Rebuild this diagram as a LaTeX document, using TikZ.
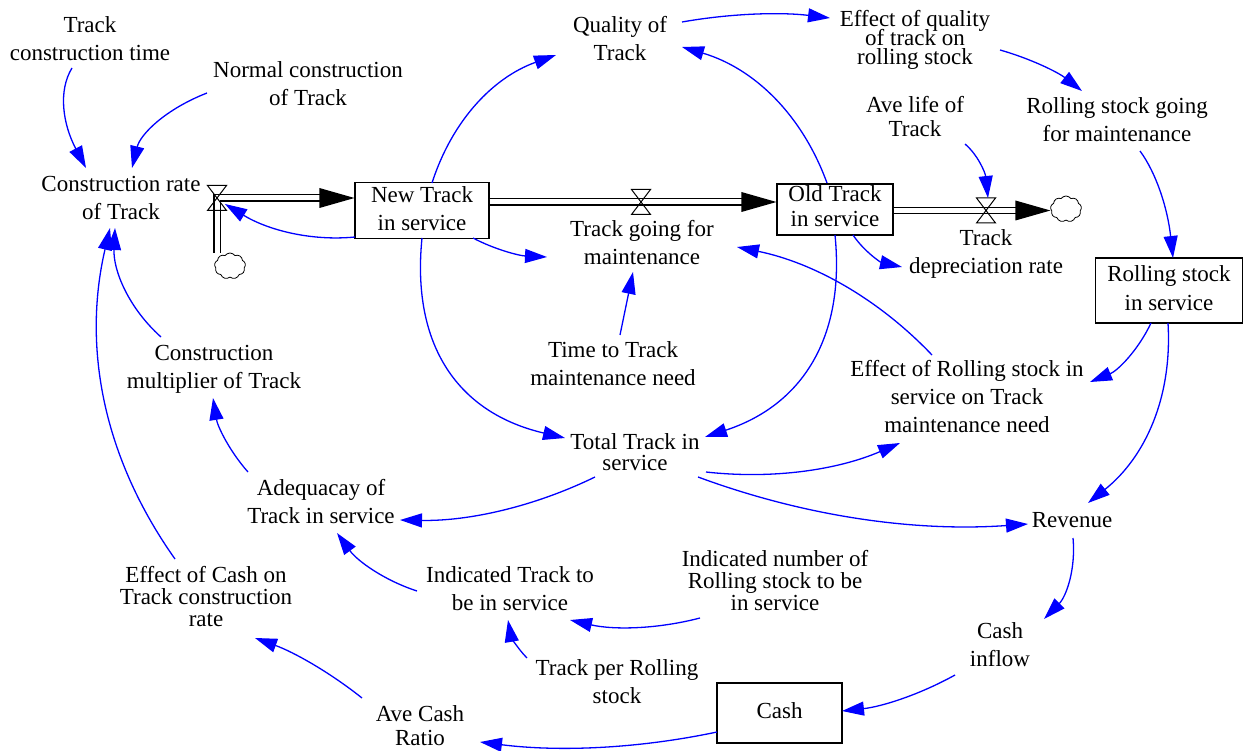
\documentclass[tikz,border=0pt]{standalone}
\usepackage{fontspec}
\setmainfont{Liberation Serif}
\usetikzlibrary{arrows.meta,shapes.symbols,calc}
\newcommand\dfont[1]{\fontsize{23}{#1}\selectfont\lineskiplimit=-30pt\relax}
\begin{document}
\begin{tikzpicture}[x=1pt,y=1pt,
  var/.style={align=center, inner sep=1pt, font=\dfont{28}},
  stock/.style={draw=black, line width=1.2pt, align=center, inner sep=0pt, font=\dfont{28}},
  link/.style={draw=blue, line width=1.3pt, -{Triangle[length=22pt,width=14pt]}},
  pipe/.style={draw=black, double=white, double distance=5pt, line width=1.3pt},
  flowhead/.style={fill=black},
  valveshape/.style={draw=black, line width=1pt},
  valvept/.style={circle, inner sep=0pt, minimum size=20pt},
  cloudshape/.style={cloud, cloud puffs=9, cloud puff arc=110, aspect=1.2, draw=black, line width=0.8pt, minimum width=31pt, minimum height=26pt, inner sep=0pt}]
\useasboundingbox[fill=white] (0,0) rectangle (1244,-751);

% stocks
\node[stock, minimum width=134pt, minimum height=55pt] (newtrack) at (422,-210.5) {New Track\strut\\in service\strut};
\node[stock, minimum width=116pt, minimum height=51pt, font=\dfont{25}] (oldtrack) at (835,-209.5) {Old Track\strut\\in service\strut};
\node[stock, minimum width=147pt, minimum height=65pt, font=\dfont{29}] (rsbox) at (1169,-290.5) {Rolling stock\strut\\in service\strut};
\node[stock, minimum width=125pt, minimum height=60pt] (cash) at (779.5,-713) {Cash\strut};

% valves and clouds
\node[valvept] (v1) at (217,-198) {};
\node[valvept] (v2) at (641,-202) {};
\node[valvept] (v3) at (986,-210.5) {};
\node[cloudshape] (cloud1) at (230,-266) {};
\node[cloudshape] (cloud2) at (1066,-209) {};

% pipes
\draw[pipe] (cloud1.north -| v1.center) -- (v1.center) -- ($(newtrack.west |- v1.center)+(-34,0)$);
\fill[flowhead] (newtrack.west |- v1.center) -- ++(-35,10) -- ++(0,-20) -- cycle;
\draw[pipe] (newtrack.east |- v2.center) -- ($(oldtrack.west |- v2.center)+(-33,0)$);
\fill[flowhead] (oldtrack.west |- v2.center) -- ++(-35,10) -- ++(0,-20) -- cycle;
\draw[pipe] (oldtrack.east |- v3.center) -- ($(cloud2.west |- v3.center)+(-34,0)$);
\fill[flowhead] (cloud2.west |- v3.center) -- ++(-35,10) -- ++(0,-20) -- cycle;
\foreach \v in {v1,v2,v3}
  \draw[valveshape] (\v.center) -- ++(-9.5,12.5) -- ++(19,0) -- cycle
                    (\v.center) -- ++(-9.5,-12.5) -- ++(19,0) -- cycle;

% variables
\node[var] (tct) at (90,-41) {Track\strut\\construction time\strut};
\node[var] (ncon) at (308,-86) {Normal construction\strut\\of Track\strut};
\node[var] (crate) at (121,-200) {Construction rate\strut\\of Track\strut};
\node[var] (quality) at (620,-41) {Quality of\strut\\Track\strut};
\node[var, font=\dfont{19}] (effq) at (915,-40) {Effect of quality\strut\\of track on\strut\\rolling stock\strut};
\node[var, font=\dfont{24}] (avelife) at (915,-120) {Ave life of\strut\\Track\strut};
\node[var] (rsgo) at (1117,-122) {Rolling stock going\strut\\for maintenance\strut};
\node[var] (tgm) at (642,-245) {Track going for\strut\\maintenance\strut};
\node[var] (tdr) at (986,-254) {Track\strut\\depreciation rate\strut};
\node[var] (ttm) at (613,-366) {Time to Track\strut\\maintenance need\strut};
\node[var] (ers) at (967,-399) {Effect of Rolling stock in\strut\\service on Track\strut\\maintenance need\strut};
\node[var, font=\dfont{21.5}] (total) at (635,-455) {Total Track in\strut\\service\strut};
\node[var] (cmult) at (214,-369) {Construction\strut\\multiplier of Track\strut};
\node[var] (adeq) at (321,-504) {Adequacay of\strut\\Track in service\strut};
\node[var, font=\dfont{22}] (ecash) at (206,-600) {Effect of Cash on\strut\\Track construction\strut\\rate\strut};
\node[var] (itrack) at (510,-591) {Indicated Track to\strut\\be in service\strut};
\node[var, font=\dfont{22}] (inum) at (775,-584) {Indicated number of\strut\\Rolling stock to be\strut\\in service\strut};
\node[var] (tpr) at (617,-684) {Track per Rolling\strut\\stock\strut};
\node[var, font=\dfont{23.5}] (avecash) at (420,-729) {Ave Cash\strut\\Ratio\strut};
\node[var] (revenue) at (1072,-522) {Revenue\strut};
\node[var] (cinflow) at (1000,-647) {Cash\strut\\inflow\strut};

% links
\draw[link] ([shift={(-18,-27)}]tct.center) .. controls (58,-90.7) and (62.7,-124) .. ([shift={(-35,32)}]crate.center);
\draw[link] ([shift={(-101,-7)}]ncon.center) .. controls (165.3,-109.3) and (140.3,-134.3) .. ([shift={(11,32)}]crate.center);
\draw[link] ([shift={(-67,-26.5)}]newtrack.center) .. controls (311.7,-241.3) and (268.3,-230.3) .. ([shift={(8,-6)}]v1.center);
\draw[link] ([shift={(10,27.5)}]newtrack.center) .. controls (452.3,-119.9) and (493.6,-77.3) .. ([shift={(-64,-14)}]quality.center);
\draw[link] ([shift={(-8,26.5)}]oldtrack.center) .. controls (801.5,-113.3) and (753.1,-68) .. ([shift={(62,-6)}]quality.center);
\draw[link] ([shift={(62,19)}]quality.center) .. controls (731.3,-13.3) and (780.7,-12) .. ([shift={(-85,22)}]effq.center);
\draw[link] ([shift={(85,-10)}]effq.center) .. controls (1030.7,-58.7) and (1058,-72.3) .. ([shift={(-35,31)}]rsgo.center);
\draw[link] ([shift={(50,-24)}]avelife.center) .. controls (977.7,-154.7) and (985.3,-172.7) .. ([shift={(2,12.5)}]v3.center);
\draw[link] ([shift={(23,-29)}]rsgo.center) .. controls (1156.7,-173.7) and (1167.7,-209.3) .. ([shift={(4,32.5)}]rsbox.center);
\draw[link] ([shift={(-18,-32.5)}]rsbox.center) .. controls (1138.1,-350.3) and (1117.7,-370.7) .. ([shift={(123,17)}]ers.center);
\draw[link] ([shift={(-1,-32.5)}]rsbox.center) .. controls (1172.4,-396.8) and (1145.7,-456.8) .. ([shift={(16,19)}]revenue.center);
\draw[link] ([shift={(-35,44)}]ers.center) .. controls (878.3,-298.6) and (813.3,-262.6) .. ([shift={(95,-2)}]tgm.center);
\draw[link] ([shift={(51,-27.5)}]newtrack.center) .. controls (494.3,-249.3) and (519,-255.7) .. ([shift={(-95,-12)}]tgm.center);
\draw[link] ([shift={(7,31)}]ttm.center) -- ([shift={(-9,-27)}]tgm.center);
\draw[link] ([shift={(18,-25.5)}]oldtrack.center) .. controls (864.3,-251.7) and (880.7,-262.3) .. ([shift={(-84,-13)}]tdr.center);
\draw[link] ([shift={(0,-27.5)}]newtrack.center) .. controls (411.1,-346.5) and (458.8,-413.2) .. ([shift={(-70,17)}]total.center);
\draw[link] ([shift={(0,-25.5)}]oldtrack.center) .. controls (845.3,-337.9) and (802,-405.2) .. ([shift={(70,18)}]total.center);
\draw[link] ([shift={(71,-17)}]total.center) .. controls (773.2,-479.5) and (837.9,-469.8) .. ([shift={(-67,-44)}]ers.center);
\draw[link] ([shift={(63,-22)}]total.center) .. controls (804.6,-516.4) and (914.6,-532.1) .. ([shift={(-44,-2)}]revenue.center);
\draw[link] ([shift={(-40,-22)}]total.center) .. controls (533.5,-506.9) and (468.5,-521.3) .. ([shift={(79,-16)}]adeq.center);
\draw[link] ([shift={(-93,0)}]itrack.center) .. controls (384.1,-580.3) and (357.4,-561) .. ([shift={(16,-29)}]adeq.center);
\draw[link] ([shift={(-73,32)}]adeq.center) .. controls (229.1,-450.7) and (217.5,-426) .. ([shift={(-1,-29)}]cmult.center);
\draw[link] ([shift={(-53,32)}]cmult.center) .. controls (128.5,-307.9) and (113.1,-270.3) .. ([shift={(-6,-28)}]crate.center);
\draw[link] ([shift={(-31,41)}]ecash.center) .. controls (103.7,-458.3) and (82,-348) .. ([shift={(-11,-28)}]crate.center);
\draw[link] ([shift={(-75,-34)}]inum.center) .. controls (656.7,-629.3) and (613.3,-630) .. ([shift={(60,-29)}]itrack.center);
\draw[link] ([shift={(-90,26)}]tpr.center) .. controls (517,-648) and (510.7,-635.3) .. ([shift={(-2,-29)}]itrack.center);
\draw[link] ([shift={(1,-16)}]revenue.center) .. controls (1075.9,-569.5) and (1066.2,-596.5) .. ([shift={(44,28)}]cinflow.center);
\draw[link] ([shift={(-45,-28)}]cinflow.center) .. controls (919.7,-694.6) and (882.1,-706.6) .. ([shift={(62.5,2)}]cash.center);
\draw[link] ([shift={(-62.5,-19)}]cash.center) .. controls (638,-748.7) and (559,-752) .. ([shift={(60,-13)}]avecash.center);
\draw[link] ([shift={(-58,31)}]avecash.center) .. controls (329.6,-672.2) and (294,-652.2) .. ([shift={(49,-38)}]ecash.center);
\end{tikzpicture}
\end{document}
